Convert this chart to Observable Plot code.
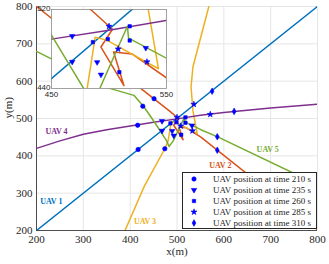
<!DOCTYPE html>
<html><head><meta charset="utf-8">
<script src="https://cdn.jsdelivr.net/npm/d3@7"></script>
<script src="https://cdn.jsdelivr.net/npm/@observablehq/plot@0.6"></script>
<style>
body{margin:0;background:#fff;}
#wrap{position:relative;width:329px;height:264px;overflow:hidden;font-family:"Liberation Serif",serif;}
#wrap > svg{position:absolute;overflow:visible;}
#legend{position:absolute;left:182px;top:172px;width:135px;height:57px;box-sizing:border-box;border:1px solid #262626;background:#fff;padding-top:1px;}
.row{height:10.9px;display:flex;align-items:center;font-size:9px;color:#262626;white-space:nowrap;}
.row svg{width:10px;height:10px;margin-left:6px;margin-right:14px;}
</style></head><body><div id="wrap"><div id="legend"></div></div>
<script>
// ---------- data ----------
const xTicks = [200, 300, 400, 500, 600, 700, 800];
const yTicks = [200, 300, 400, 500, 600, 700, 800];
const insetXTicks = [450, 550];
const insetYTicks = [440, 520];

const uavNames  = ["UAV 1", "UAV 2", "UAV 3", "UAV 4", "UAV 5"];
const uavColors = ["#0072BD", "#D95319", "#EDB120", "#7E2F8E", "#77AC30"];

const uav1X = [200, 800];
const uav1Y = [200, 800];
const uav2X = [200, 485, 503, 493, 513, 504, 520, 551, 800];
const uav2Y = [800, 519, 500, 482, 443, 477, 475, 450, 202];
const uav3X = [389, 430, 474, 481, 488, 498, 543, 534, 530, 534, 568];
const uav3Y = [200, 318, 419, 440, 492, 489, 460, 521, 585, 638, 800];
const uav4X = [200, 250, 300, 350, 400, 450, 500, 550, 600, 700, 800];
const uav4Y = [420, 440, 458, 470, 480, 490, 499, 509, 516, 528, 538];
const uav5X = [200, 358, 408, 430, 451, 478, 483, 492, 516, 517, 551, 588, 800];
const uav5Y = [680, 580, 562, 530, 492, 440, 425, 440, 503, 491, 470, 450, 323];

const t210X = [417, 451, 474, 416, 427];
const t210Y = [417, 553, 419, 482, 533];
const t235X = [468, 468, 489.7, 493, 532];
const t235Y = [493, 467, 466.6, 454, 481];
const t260X = [486, 518, 499, 518, 509];
const t260Y = [487, 503, 490, 488.6, 456.5];
const t285X = [500, 508, 533, 536, 571];
const t285Y = [503, 480, 467, 538, 511];
const t310X = [575, 622, 586, 586];
const t310Y = [573, 519, 451, 415];

const legendTexts = ["UAV position at time 210 s", "UAV position at time 235 s",
  "UAV position at time 260 s", "UAV position at time 285 s", "UAV position at time 310 s"];

const labelX = [208, 569, 408, 219, 670];
const labelY = [278, 375, 224, 466, 418];

// ---------- build ----------
const pathsX = [uav1X, uav2X, uav3X, uav4X, uav5X];
const pathsY = [uav1Y, uav2Y, uav3Y, uav4Y, uav5Y];
const paths = pathsX.map((xs, i) => xs.map((x, j) => ({x, y: pathsY[i][j]})));
const mk = (xs, ys) => xs.map((x, i) => ({x, y: ys[i]}));
const markerSets = [
  {data: mk(t210X, t210Y), symbol: "circle", rotate: 0, r: 2.2},
  {data: mk(t235X, t235Y), symbol: "triangle", rotate: 180, r: 2.0},
  {data: mk(t260X, t260Y), symbol: "square", rotate: 0, r: 1.9},
  {data: mk(t285X, t285Y), symbol: "star", rotate: 0, r: 1.9},
  {data: mk(t310X, t310Y), symbol: "diamond", rotate: 0, r: 2.0}
];
const labels = uavNames.map((n, i) => ({n, x: labelX[i], y: labelY[i], c: uavColors[i]}));

function lineMarks(clip) {
  return paths.map((p, i) => Plot.line(p, {x: "x", y: "y", stroke: uavColors[i], strokeWidth: 1.5, clip}));
}
function dotMarks(clip) {
  return markerSets.map(m => Plot.dot(m.data, {x: "x", y: "y", symbol: m.symbol, r: m.r, rotate: m.rotate,
    fill: "#0000FF", stroke: "#0000FF", strokeWidth: 0.6, clip}));
}

const main = Plot.plot({
  width: 329, height: 264,
  marginLeft: 36, marginRight: 12, marginTop: 6, marginBottom: 34,
  x: {domain: [200, 800], label: null},
  y: {domain: [200, 800], label: null},
  style: {fontFamily: "Liberation Serif", fontSize: "11px", color: "#262626", background: "transparent"},
  marks: [
    Plot.gridX(xTicks, {stroke: "#e6e6e6", strokeOpacity: 1}),
    Plot.gridY(yTicks, {stroke: "#e6e6e6", strokeOpacity: 1}),
    Plot.axisX(xTicks, {tickSize: 0, tickPadding: 5, fontSize: 11, fill: "#262626"}),
    Plot.axisY(yTicks, {tickSize: 0, tickPadding: 4, fontSize: 11, fill: "#262626"}),
    Plot.ruleY([200], {stroke: "#262626", strokeWidth: 0.8}),
    Plot.ruleX([200], {stroke: "#262626", strokeWidth: 0.8}),
    ...lineMarks(true),
    ...dotMarks(true),
    Plot.text(labels, {x: "x", y: "y", text: "n", fill: "c", textAnchor: "start", fontWeight: "bold", fontSize: 8}),
    Plot.text(["x(m)"], {frameAnchor: "bottom", dy: 24, fontSize: 11, fill: "#262626"}),
    Plot.text(["y(m)"], {frameAnchor: "left", dx: -28, rotate: -90, fontSize: 11, fill: "#262626"})
  ]
});
main.style.left = "0px"; main.style.top = "0px";
const wrap = document.getElementById("wrap");
wrap.insertBefore(main, wrap.firstChild);

const inset = Plot.plot({
  width: 115 + 16 + 8, height: 79 + 6 + 12,
  marginLeft: 16, marginRight: 8, marginTop: 6, marginBottom: 12,
  x: {domain: [450, 550], label: null},
  y: {domain: [440, 520], label: null},
  style: {fontFamily: "Liberation Sans", fontSize: "8px", color: "#262626", background: "transparent", overflow: "visible"},
  marks: [
    Plot.frame({fill: "white", stroke: "none"}),
    ...lineMarks(true),
    ...dotMarks(true),
    Plot.frame({stroke: "#8a8a8a", strokeWidth: 0.8}),
    Plot.axisX(insetXTicks, {tickSize: 0, tickPadding: 3, fontSize: 8, fill: "#262626"}),
    Plot.axisY(insetYTicks, {tickSize: 0, tickPadding: 1, fontSize: 8, fill: "#262626", dy: -1})
  ]
});
inset.style.left = "35px"; inset.style.top = "3px";
wrap.insertBefore(inset, document.getElementById("legend"));

// legend
const legend = document.getElementById("legend");
markerSets.forEach((m, i) => {
  const row = document.createElement("div");
  row.className = "row";
  const sym = {circle: d3.symbolCircle, triangle: d3.symbolTriangle, square: d3.symbolSquare, star: d3.symbolStar, diamond: d3.symbolDiamond}[m.symbol];
  const path = d3.symbol(sym, Math.PI * m.r * m.r)();
  row.innerHTML = `<svg viewBox="-5 -5 10 10"><path d="${path}" fill="#0000FF" stroke="#0000FF" stroke-width="0.6" transform="rotate(${m.rotate})"/></svg><span>${legendTexts[i]}</span>`;
  legend.appendChild(row);
});
</script></body></html>
